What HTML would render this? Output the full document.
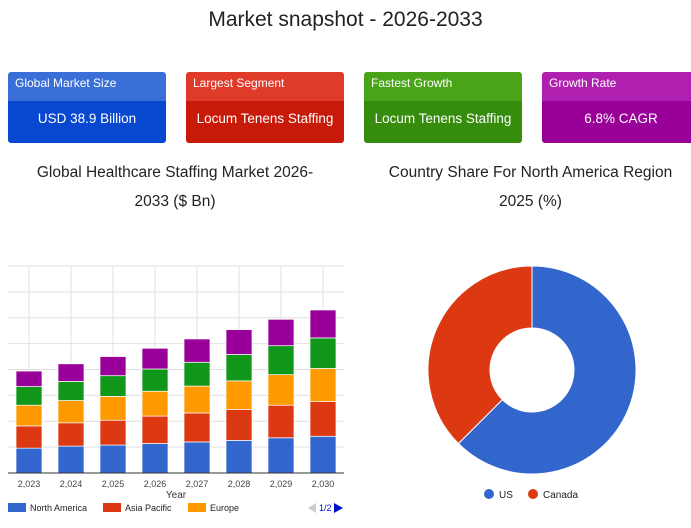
<!DOCTYPE html>
<html><head><meta charset="utf-8"><style>
body{margin:0;width:691px;height:528px;background:#fff;font-family:"Liberation Sans",sans-serif;position:relative;overflow:hidden;color:#222}
.t{position:absolute;text-align:center;}
.card{position:absolute;top:72px;width:158px;height:71px;border-radius:3px;overflow:hidden;color:#fff}
.card .h{height:29px;line-height:23px;font-size:12px;padding-left:7px}
.card .b{height:42px;line-height:36px;font-size:13.5px;text-align:center}
</style></head><body>
<div class="t" style="left:0;width:691px;top:8px;font-size:21px;">Market snapshot - 2026-2033</div>
<div class="card" style="left:8px"><div class="h" style="background:#3a6fd8">Global Market Size</div><div class="b" style="background:#0848d0">USD 38.9 Billion</div></div>
<div class="card" style="left:186px"><div class="h" style="background:#e03a2a">Largest Segment</div><div class="b" style="background:#c81a08">Locum Tenens Staffing</div></div>
<div class="card" style="left:364px"><div class="h" style="background:#4aa418">Fastest Growth</div><div class="b" style="background:#368c0c">Locum Tenens Staffing</div></div>
<div class="card" style="left:542px"><div class="h" style="background:#b020b0">Growth Rate</div><div class="b" style="background:#980098">6.8% CAGR</div></div>
<div class="t" style="left:0;width:350px;top:158px;font-size:15.5px;line-height:29px">Global Healthcare Staffing Market 2026-<br>2033 ($ Bn)</div>
<div class="t" style="left:370px;width:321px;top:158px;font-size:15.5px;line-height:29px">Country Share For North America Region<br>2025 (%)</div>
<svg id="bar" style="position:absolute;left:0;top:0" width="691" height="528"></svg>
<script>
const years=["2,023","2,024","2,025","2,026","2,027","2,028","2,029","2,030"];
const northAmerica=[4.8,5.2,5.4,5.7,6.0,6.3,6.8,7.1];
const asiaPacific=[4.3,4.5,4.8,5.3,5.6,6.0,6.3,6.7];
const europe=[4.0,4.3,4.6,4.8,5.2,5.5,5.9,6.4];
const latinAmerica=[3.6,3.7,4.0,4.3,4.6,5.1,5.6,5.9];
const mea=[3.0,3.4,3.7,4.0,4.5,4.8,5.1,5.4];
const seriesNames=["North America","Asia Pacific","Europe","Latin America","Middle East & Africa"];
const shareLabels=["US","Canada"];
const shareValues=[62.5,37.5];
const NS="http://www.w3.org/2000/svg";
const svg=document.getElementById('bar');
const colors=["#3366cc","#dc3912","#ff9900","#109618","#990099"];
const series=[northAmerica,asiaPacific,europe,latinAmerica,mea];
const x0=8,x1=344,yb=473,yt=266,ymax=40;
const band=(x1-x0)/years.length;
const X=i=>x0+band*(i+0.5);
const Y=v=>yb-(v/ymax)*(yb-yt);
function mk(t,a){const e=document.createElementNS(NS,t);for(const k in a)e.setAttribute(k,a[k]);svg.appendChild(e);return e;}
for(let g=0;g<=8;g++){const l=mk('line',{x1:x0,x2:x1,y1:Y(g*5),y2:Y(g*5),stroke:'#e0e0e0'});

}
years.forEach((y,i)=>{const l=mk('line',{x1:X(i),x2:X(i),y1:yt,y2:yb,stroke:'#e0e0e0'});

});
years.forEach((yr,i)=>{let acc=0;series.forEach((s,k)=>{const r=mk('rect',{x:X(i)-13,width:26,y:Y(acc+s[i]),height:Y(acc)-Y(acc+s[i]),fill:colors[k],stroke:'#fff','stroke-width':0.7});


acc+=s[i];});
const t=mk('text',{x:X(i),y:487,'font-size':9,'text-anchor':'middle',fill:'#444'});t.textContent=yr;

});
mk('line',{x1:x0,x2:x1,y1:yb,y2:yb,stroke:'#333'});
const yt2=mk('text',{x:176,y:498,'font-size':10,'text-anchor':'middle',fill:'#333'});yt2.textContent='Year';


const lx=[8,103,188];
[0,1,2].forEach(k=>{const r=mk('rect',{x:lx[k],y:503,width:18,height:9,fill:colors[k]});


const t=mk('text',{x:lx[k]+22,y:511,'font-size':9,fill:'#222'});t.textContent=seriesNames[k];

});
mk('path',{d:'M308 508 L316 503 L316 513 Z',fill:'#ccc'});
const pg=mk('text',{x:319,y:511,'font-size':9,fill:'#0011cc'});pg.textContent='1/2';


const nx=mk('path',{d:'M334 503 L343 508 L334 513 Z',fill:'#0011cc'});


// donut
const cx=532,cy=370,R=104,r0=42;const dcol=["#3366cc","#dc3912"];
const tot=shareValues.reduce((a,b)=>a+b,0);let a0=0;
shareValues.forEach((v,k)=>{const a1=a0+v/tot*2*Math.PI;const p=(a,rr)=>[cx+rr*Math.sin(a),cy-rr*Math.cos(a)];
const [ax,ay]=p(a0,R),[bx,by]=p(a1,R),[cx2,cy2]=p(a1,r0),[dx,dy]=p(a0,r0);const lg=(a1-a0)>Math.PI?1:0;
const s=mk('path',{d:`M${ax} ${ay} A${R} ${R} 0 ${lg} 1 ${bx} ${by} L${cx2} ${cy2} A${r0} ${r0} 0 ${lg} 0 ${dx} ${dy} Z`,fill:dcol[k],stroke:'#fff','stroke-width':1});


a0=a1;});
const dl=[489,533];
shareLabels.forEach((n,k)=>{const c=mk('circle',{cx:dl[k],cy:494,r:5,fill:dcol[k]});


const t=mk('text',{x:dl[k]+10,y:498,'font-size':10,fill:'#222'});t.textContent=n;

});
</script>
</body></html>
